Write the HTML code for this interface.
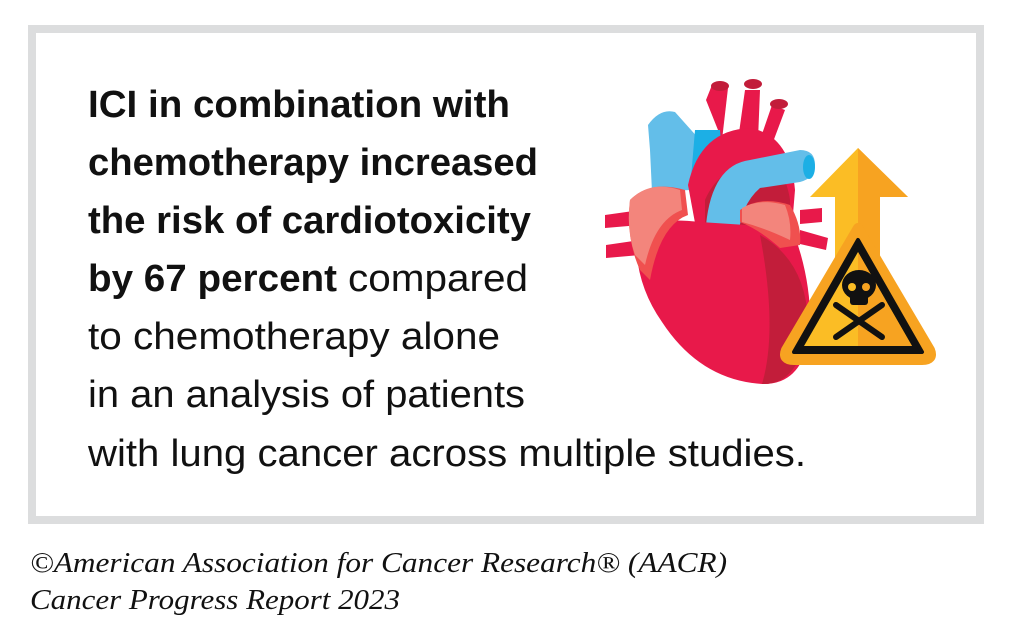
<!DOCTYPE html>
<html><head><meta charset="utf-8"><style>
html,body{margin:0;padding:0;background:#fff;width:1013px;height:638px;overflow:hidden}
</style></head><body>
<svg width="1013" height="638" viewBox="0 0 1013 638" xmlns="http://www.w3.org/2000/svg">
<rect x="32" y="29" width="948" height="491" fill="#fff" stroke="#dcddde" stroke-width="8"/>
<g font-family="Liberation Sans, sans-serif" font-size="38" fill="#111">
<text x="88" y="117" font-weight="bold" textLength="422" lengthAdjust="spacingAndGlyphs">ICI in combination with</text>
<text x="88" y="175" font-weight="bold" textLength="450" lengthAdjust="spacingAndGlyphs">chemotherapy increased</text>
<text x="88" y="233" font-weight="bold" textLength="443" lengthAdjust="spacingAndGlyphs">the risk of cardiotoxicity</text>
<text x="88" y="291" font-weight="bold" textLength="249" lengthAdjust="spacingAndGlyphs">by 67 percent</text>
<text x="348" y="291" textLength="180" lengthAdjust="spacingAndGlyphs">compared</text>
<text x="88" y="349" textLength="412" lengthAdjust="spacingAndGlyphs">to chemotherapy alone</text>
<text x="88" y="407" textLength="437" lengthAdjust="spacingAndGlyphs">in an analysis of patients</text>
<text x="88" y="466" textLength="718" lengthAdjust="spacingAndGlyphs">with lung cancer across multiple studies.</text>
</g>
<g font-family="Liberation Serif, serif" font-style="italic" font-size="29" fill="#111">
<text x="30" y="572" textLength="697" lengthAdjust="spacingAndGlyphs">©American Association for Cancer Research® (AACR)</text>
<text x="30" y="609" textLength="370" lengthAdjust="spacingAndGlyphs">Cancer Progress Report 2023</text>
</g>
<g>
<path d="M706 100 L712 85 L728 88 L722 140 Z" fill="#e8194a"/>
<ellipse cx="720" cy="86" rx="9" ry="5" fill="#c21d3a"/>
<path d="M738 140 L745 90 L760 90 L758 140 Z" fill="#e8194a"/>
<ellipse cx="753" cy="84" rx="9" ry="5" fill="#c21d3a"/>
<path d="M760 140 L772 105 L785 110 L770 150 Z" fill="#e8194a"/>
<ellipse cx="779" cy="104" rx="9" ry="5" fill="#c21d3a"/>
<path d="M648 125 Q660 108 675 112 L700 140 L690 190 L652 192 L650 150 Z" fill="#63bee9"/>
<path d="M695 130 L720 130 L725 190 L690 190 Z" fill="#1cafe5"/>
<path d="M688 185 Q700 130 750 128 Q790 135 795 190 L790 250 L700 250 Z" fill="#e8194a"/>
<path d="M705 200 Q720 165 760 162 Q785 165 790 200 L790 230 L705 230 Z" fill="#c21d3a"/>
<path d="M706 225 Q712 165 750 160 L800 150 Q815 150 815 165 Q815 178 800 182 L760 188 Q740 205 738 240 L705 240 Z" fill="#63bee9"/>
<ellipse cx="809" cy="167" rx="6" ry="12" fill="#1cafe5"/>
<path d="M605 215 L640 210 L640 225 L605 228 Z" fill="#e8194a"/>
<path d="M606 245 L640 240 L640 255 L606 258 Z" fill="#e8194a"/>
<path d="M800 210 L822 208 L822 222 L800 224 Z" fill="#e8194a"/>
<path d="M800 230 L828 238 L826 250 L800 244 Z" fill="#e8194a"/>
<path d="M636 240 Q640 215 700 222 L792 228 Q812 280 810 330 Q804 385 762 384 Q700 380 662 322 Q636 285 636 240 Z" fill="#e8194a"/>
<path d="M760 235 Q805 260 808 320 Q802 385 762 384 Q778 330 760 235 Z" fill="#c21d3a"/>
<path d="M630 200 Q650 180 685 190 L688 215 Q660 225 650 280 L640 270 Q626 240 630 200 Z" fill="#f0504f"/>
<path d="M630 200 Q650 180 680 190 L682 210 Q655 220 645 265 L635 255 Q626 230 630 200 Z" fill="#f3857c"/>
<path d="M740 210 Q760 195 790 205 Q802 225 800 245 L780 248 Q760 230 740 222 Z" fill="#f0504f"/>
<path d="M742 208 Q760 198 785 205 Q792 222 790 240 Q765 228 742 222 Z" fill="#f3857c"/>
</g>
<path d="M858 148 L908 197 L880 197 L880 260 L835 260 L835 197 L810 197 Z" fill="#fbbd25"/>
<path d="M858 148 L908 197 L880 197 L880 260 L858 260 Z" fill="#f7a321"/>
<path d="M858 228 L930 350 Q934 360 922 360 L794 360 Q782 360 786 350 Z" fill="#f7a321" stroke="#f7a321" stroke-width="10" stroke-linejoin="round"/>
<path d="M858 240 L922 352 L794 352 Z" fill="#111" stroke="#111" stroke-width="4" stroke-linejoin="round"/>
<path d="M858 252 L912 346 L804 346 Z" fill="#fbbd25"/>
<path d="M858 252 L912 346 L858 346 Z" fill="#f7a321"/>
<ellipse cx="859" cy="285" rx="17" ry="15" fill="#111"/>
<rect x="850" y="292" width="18" height="13" rx="3" fill="#111"/>
<circle cx="852" cy="287" r="4" fill="#fbbd25"/><circle cx="866" cy="287" r="4" fill="#f7a321"/>
<path d="M836 305 L882 337 M882 305 L836 337" stroke="#111" stroke-width="6" stroke-linecap="round"/>
</svg>
</body></html>
